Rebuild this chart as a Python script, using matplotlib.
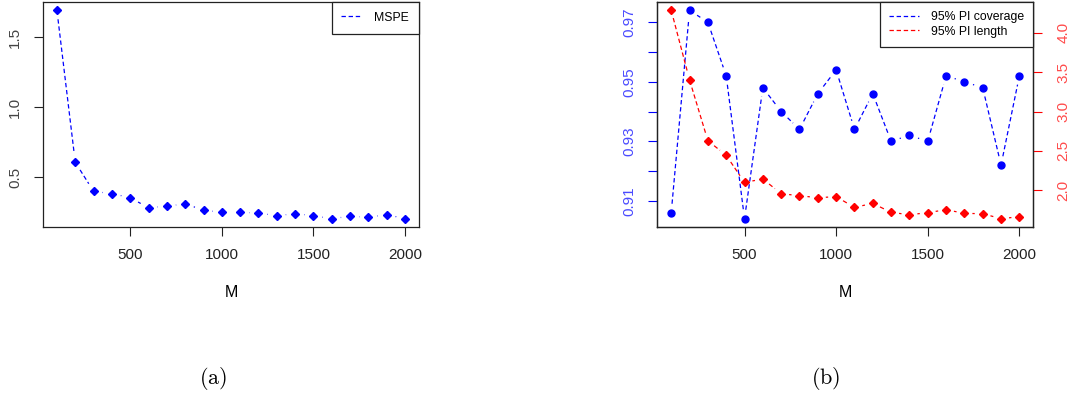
import numpy as np
import matplotlib
matplotlib.use("Agg")
import matplotlib.pyplot as plt
from matplotlib.lines import Line2D
from matplotlib.ticker import FixedLocator

plt.rcParams['font.family'] = ['Liberation Sans', 'DejaVu Sans']
plt.rcParams['mathtext.fontset'] = 'cm'

# ── data ─────────────────────────────────────────────────────────
M = [100, 200, 300, 400, 500, 600, 700, 800, 900, 1000,
     1100, 1200, 1300, 1400, 1500, 1600, 1700, 1800, 1900, 2000]
mspe = [1.694, 0.605, 0.397, 0.380, 0.352, 0.278, 0.292, 0.306, 0.263, 0.246,
        0.246, 0.242, 0.222, 0.237, 0.222, 0.201, 0.218, 0.211, 0.230, 0.201]
pi_cov = [0.906, 0.974, 0.970, 0.952, 0.904, 0.948, 0.940, 0.934, 0.946, 0.954,
          0.934, 0.946, 0.930, 0.932, 0.930, 0.952, 0.950, 0.948, 0.922, 0.952]
pi_len = [4.283, 3.400, 2.630, 2.444, 2.101, 2.144, 1.958, 1.932, 1.907, 1.920,
          1.784, 1.835, 1.721, 1.691, 1.717, 1.755, 1.708, 1.704, 1.641, 1.666]
x_ticks = [500, 1000, 1500, 2000]
cov_ticks = [0.91, 0.92, 0.93, 0.94, 0.95, 0.96, 0.97]
cov_labels = ["0.91", "", "0.93", "", "0.95", "", "0.97"]
len_ticks = [2.0, 2.5, 3.0, 3.5, 4.0]

DASH = (0, (3.5, 2.2))
W, H = 1073, 400


def rlim(v):
    # R default axis range: data range extended by 4% each side
    lo, hi = min(v), max(v)
    e = (hi - lo) * 0.04
    return lo - e, hi + e


def gapped_line(ax, x, y, color, gap=9.0):
    """type='b' in R: line segments with gaps around the points"""
    T = ax.transData
    inv = T.inverted()
    pts = T.transform(np.column_stack([x, y]))
    for p0, p1 in zip(pts[:-1], pts[1:]):
        d = p1 - p0
        L = np.hypot(*d)
        if L <= 2 * gap:
            continue
        u = d / L
        a = inv.transform(p0 + u * gap)
        b = inv.transform(p1 - u * gap)
        ax.plot([a[0], b[0]], [a[1], b[1]], color=color, ls=DASH, lw=0.9)


def style_box(ax):
    for s in ax.spines.values():
        s.set_color("#222222")
        s.set_linewidth(0.9)


fig = plt.figure(figsize=(W / 100, H / 100), dpi=100)

# ── (a) MSPE ────────────────────────────────────────────────────
ax1 = fig.add_axes([43 / W, 1 - 227 / H, 376 / W, 225 / H])
ax1.set_xlim(rlim(M))
ax1.set_ylim(rlim(mspe))
gapped_line(ax1, M, mspe, "blue")
ax1.plot(M, mspe, ls="none", marker="D", ms=3.9, color="blue", zorder=3)
ax1.set_xticks(x_ticks)
ax1.set_yticks([0.5, 1.0, 1.5])
ax1.tick_params(axis="both", length=6.5, width=0.8, pad=8.5, labelsize=11,
                colors="#222222")
ax1.tick_params(axis="y", labelrotation=90)
for t in ax1.get_yticklabels():
    t.set_va("center")
    t.set_color("#444444")
ax1.set_xlabel("M", fontsize=11.5, labelpad=17)
style_box(ax1)
leg = ax1.legend([Line2D([], [], color="blue", ls=DASH, lw=0.9)], ["MSPE"],
                 loc="upper right", borderaxespad=0, fancybox=False,
                 framealpha=1, edgecolor="#222222", fontsize=8.8,
                 handlelength=1.7, borderpad=0.8, handletextpad=1.0)
leg.get_frame().set_linewidth(0.9)

# ── (b) PI coverage / length ────────────────────────────────────
ax2 = fig.add_axes([657.3 / W, 1 - 227 / H, 376 / W, 225 / H])
ax3 = ax2.twinx()
ax2.set_xlim(rlim(M))
ax2.set_ylim(rlim(pi_cov))
ax3.set_ylim(rlim(pi_len))
gapped_line(ax2, M, pi_cov, "blue")
ax2.plot(M, pi_cov, ls="none", marker="o", ms=5.0, color="blue", zorder=3)
gapped_line(ax3, M, pi_len, "red", gap=8.0)
ax3.plot(M, pi_len, ls="none", marker="D", ms=3.6, color="red", zorder=3)

ax2.set_xticks(x_ticks)
ax2.yaxis.set_major_locator(FixedLocator(cov_ticks))
ax2.set_yticklabels(cov_labels)
ax2.tick_params(axis="x", length=6.5, width=0.8, pad=8.5, labelsize=11,
                colors="#222222")
ax2.tick_params(axis="y", length=6.5, width=0.8, pad=8.5, labelsize=11,
                colors="blue", labelrotation=90)
for t in ax2.get_yticklabels():
    t.set_va("center")
    t.set_color("#4a4aff")
ax3.set_yticks(len_ticks)
ax3.set_yticklabels([f"{v:.1f}" for v in len_ticks])
ax3.tick_params(axis="y", length=6.5, width=0.8, pad=10, labelsize=11,
                colors="red", labelrotation=90)
for t in ax3.get_yticklabels():
    t.set_va("center")
    t.set_color("#ff4a4a")
ax2.set_xlabel("M", fontsize=11.5, labelpad=17)
style_box(ax2)
style_box(ax3)

leg2 = ax3.legend([Line2D([], [], color="blue", ls=DASH, lw=0.9),
                   Line2D([], [], color="red", ls=DASH, lw=0.9)],
                  ["95% PI coverage", "95% PI length"],
                  loc="upper right", borderaxespad=0, fancybox=False,
                  framealpha=1, edgecolor="#222222", fontsize=8.8,
                  handlelength=2.4, borderpad=0.75, handletextpad=1.0,
                  labelspacing=0.2)
leg2.get_frame().set_linewidth(0.9)

# ── captions ────────────────────────────────────────────────────
fig.text(213 / W, 1 - 378 / H, r"$\mathrm{(a)}$", fontsize=16,
         ha="center", va="center")
fig.text(826 / W, 1 - 378 / H, r"$\mathrm{(b)}$", fontsize=16,
         ha="center", va="center")

fig.savefig("out.png", dpi=100, facecolor="white")
